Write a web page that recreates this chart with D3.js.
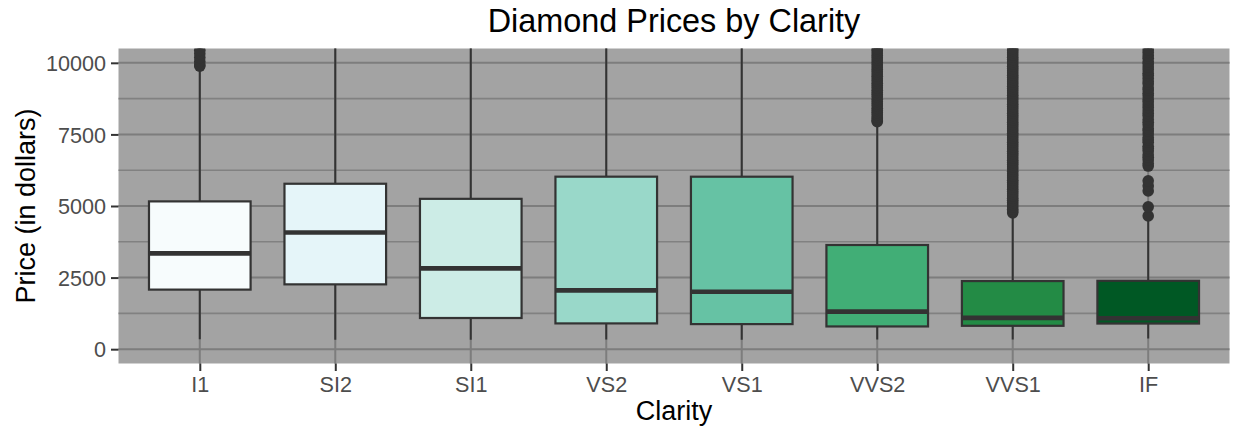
<!DOCTYPE html>
<html>
<head>
<meta charset="utf-8">
<script src="https://cdn.jsdelivr.net/npm/d3@7"></script>
<style>
  html, body { margin: 0; padding: 0; background: #ffffff; }
  svg { display: block; }
  text { font-family: "Liberation Sans", Arial, Helvetica, sans-serif; }
</style>
</head>
<body>
<svg id="chart" width="1233" height="431"></svg>
<script>
// Diamond price distribution per clarity grade
const categories = ["I1", "SI2", "SI1", "VS2", "VS1", "VVS2", "VVS1", "IF"];
const q1Values     = [2080, 2264, 1089,  900,  876,  794,  816,  895];
const medianValues = [3344, 4072, 2822, 2054, 2005, 1311, 1093, 1080];
const q3Values     = [5161, 5777, 5250, 6024, 6023, 3638, 2379, 2388];
const whiskerLow   = [ 345,  326,  326,  334,  327,  336,  336,  369];
const whiskerHigh  = [9780, 11036, 11478, 13700, 13730, 7900, 4721, 4620];

// Outlying prices (only the visible range up to 10500)
const outliersI1   = [9886, 9925, 10045, 10183, 10320, 10435];
const outliersSI2  = [];
const outliersSI1  = [];
const outliersVS2  = [];
const outliersVS1  = [];
const outliersVVS2 = [7948, 7985, 8050, 8104, 8190, 8263, 8337, 8410, 8498, 8571,
                      8650, 8725, 8812, 8890, 8963, 9045, 9127, 9208, 9290, 9371,
                      9445, 9532, 9610, 9689, 9770, 9852, 9930, 10012, 10096, 10178,
                      10257, 10340, 10423, 10499];
const outliersVVS1 = [4760, 4826, 4890, 4968, 5040, 5121, 5198, 5270, 5352, 5430,
                      5505, 5588, 5661, 5740, 5822, 5897, 5975, 6052, 6130, 6211,
                      6288, 6362, 6445, 6520, 6601, 6677, 6756, 6833, 6912, 6990,
                      7068, 7145, 7224, 7301, 7380, 7458, 7537, 7615, 7692, 7771,
                      7850, 7926, 8005, 8084, 8160, 8240, 8318, 8396, 8473, 8552,
                      8630, 8709, 8787, 8864, 8943, 9021, 9100, 9178, 9256, 9333,
                      9412, 9490, 9569, 9647, 9726, 9804, 9882, 9960, 10039, 10117,
                      10196, 10274, 10352, 10430, 10500];
const outliersIF   = [4654, 4972, 5527, 5700, 5879, 6395, 6480, 6610, 6700, 6790,
                      6920, 7010, 7085, 7230, 7310, 7390, 7510, 7620, 7700, 7830,
                      7925, 8020, 8140, 8230, 8330, 8440, 8530, 8640, 8720, 8850,
                      8940, 9050, 9130, 9260, 9340, 9450, 9560, 9640, 9760, 9850,
                      9960, 10040, 10160, 10250, 10360, 10450];
const outlierSets = [outliersI1, outliersSI2, outliersSI1, outliersVS2,
                     outliersVS1, outliersVVS2, outliersVVS1, outliersIF];

const fillColors = ["#f7fcfd", "#e5f5f9", "#ccece6", "#99d8c9",
                    "#66c2a4", "#41ae76", "#238b45", "#005824"];

const yMajorTicks = [0, 2500, 5000, 7500, 10000];
const yMinorTicks = [1250, 3750, 6250, 8750];

const titleText = "Diamond Prices by Clarity";
const xTitleText = "Clarity";
const yTitleText = "Price (in dollars)";

// Panel geometry
const panel = { left: 118.5, right: 1229.5, top: 48.5, bottom: 363.5 };

const svg = d3.select("#chart");

const x = d3.scalePoint()
  .domain(categories)
  .range([panel.left, panel.right])
  .padding(0.6);
const y = d3.scaleLinear()
  .domain([-500, 10500])
  .range([panel.bottom, panel.top]);

const boxWidth = x.step() * 0.75;

const colorScale = d3.scaleOrdinal().domain(categories).range(fillColors);

// Panel background
svg.append("rect")
  .attr("x", panel.left).attr("y", panel.top)
  .attr("width", panel.right - panel.left)
  .attr("height", panel.bottom - panel.top)
  .attr("fill", "#a3a3a3");

svg.append("clipPath").attr("id", "panel-clip")
  .append("rect")
  .attr("x", panel.left).attr("y", panel.top)
  .attr("width", panel.right - panel.left)
  .attr("height", panel.bottom - panel.top);

const grid = svg.append("g");
grid.selectAll("line.minor").data(yMinorTicks).join("line")
  .attr("class", "minor")
  .attr("x1", panel.left).attr("x2", panel.right)
  .attr("y1", d => y(d)).attr("y2", d => y(d))
  .attr("stroke", "#818181").attr("stroke-width", 1.6);
grid.selectAll("line.major").data(yMajorTicks).join("line")
  .attr("class", "major")
  .attr("x1", panel.left).attr("x2", panel.right)
  .attr("y1", d => y(d)).attr("y2", d => y(d))
  .attr("stroke", "#7d7d7d").attr("stroke-width", 2);
grid.selectAll("line.vmajor").data(categories).join("line")
  .attr("class", "vmajor")
  .attr("x1", d => x(d)).attr("x2", d => x(d))
  .attr("y1", panel.top).attr("y2", panel.bottom)
  .attr("stroke", "#7d7d7d").attr("stroke-width", 2);

// Boxplots
const boxData = categories.map((c, i) => ({
  cat: c, q1: q1Values[i], med: medianValues[i], q3: q3Values[i],
  lo: whiskerLow[i], hi: whiskerHigh[i], out: outlierSets[i]
}));

const plot = svg.append("g").attr("clip-path", "url(#panel-clip)");
const boxes = plot.selectAll("g.box").data(boxData).join("g").attr("class", "box");

boxes.append("line")
  .attr("x1", d => x(d.cat)).attr("x2", d => x(d.cat))
  .attr("y1", d => y(d.q3)).attr("y2", d => y(d.hi))
  .attr("stroke", "#333333").attr("stroke-width", 2);
boxes.append("line")
  .attr("x1", d => x(d.cat)).attr("x2", d => x(d.cat))
  .attr("y1", d => y(d.q1)).attr("y2", d => y(d.lo))
  .attr("stroke", "#333333").attr("stroke-width", 2);
boxes.append("rect")
  .attr("x", d => x(d.cat) - boxWidth / 2)
  .attr("width", boxWidth)
  .attr("y", d => y(d.q3))
  .attr("height", d => y(d.q1) - y(d.q3))
  .attr("fill", d => colorScale(d.cat))
  .attr("stroke", "#333333").attr("stroke-width", 2.2);
boxes.append("line")
  .attr("x1", d => x(d.cat) - boxWidth / 2).attr("x2", d => x(d.cat) + boxWidth / 2)
  .attr("y1", d => y(d.med)).attr("y2", d => y(d.med))
  .attr("stroke", "#333333").attr("stroke-width", 4.6);

boxes.selectAll("circle").data(d => d.out.map(v => ({ cat: d.cat, v }))).join("circle")
  .attr("cx", d => x(d.cat))
  .attr("cy", d => y(d.v))
  .attr("r", 5.8)
  .attr("fill", "#333333");

// Axes
const yAxis = svg.append("g")
  .attr("transform", `translate(${panel.left},0)`)
  .call(d3.axisLeft(y).tickValues(yMajorTicks).tickSize(7.5).tickPadding(5)
    .tickFormat(d3.format("d")));
yAxis.select(".domain").remove();
yAxis.selectAll(".tick line").attr("stroke", "#333333").attr("stroke-width", 2);
yAxis.selectAll(".tick text")
  .attr("fill", "#4d4d4d")
  .style("font-size", "21.6px")
  .attr("dy", "0.36em");

const xAxis = svg.append("g")
  .attr("transform", `translate(0,${panel.bottom})`)
  .call(d3.axisBottom(x).tickSize(7.5).tickPadding(5));
xAxis.select(".domain").remove();
xAxis.selectAll(".tick line").attr("stroke", "#333333").attr("stroke-width", 2);
xAxis.selectAll(".tick text")
  .attr("fill", "#4d4d4d")
  .style("font-size", "21.6px")
  .attr("dy", "0.75em");

// Titles
const panelCenterX = (panel.left + panel.right) / 2;
svg.append("text")
  .attr("x", panelCenterX).attr("y", 32)
  .attr("text-anchor", "middle")
  .attr("fill", "#000000")
  .style("font-size", "32.4px")
  .text(titleText);
svg.append("text")
  .attr("x", panelCenterX).attr("y", 420)
  .attr("text-anchor", "middle")
  .attr("fill", "#000000")
  .style("font-size", "27px")
  .text(xTitleText);
svg.append("text")
  .attr("transform", `translate(35,${(panel.top + panel.bottom) / 2}) rotate(-90)`)
  .attr("text-anchor", "middle")
  .attr("fill", "#000000")
  .style("font-size", "27px")
  .text(yTitleText);
</script>
</body>
</html>
